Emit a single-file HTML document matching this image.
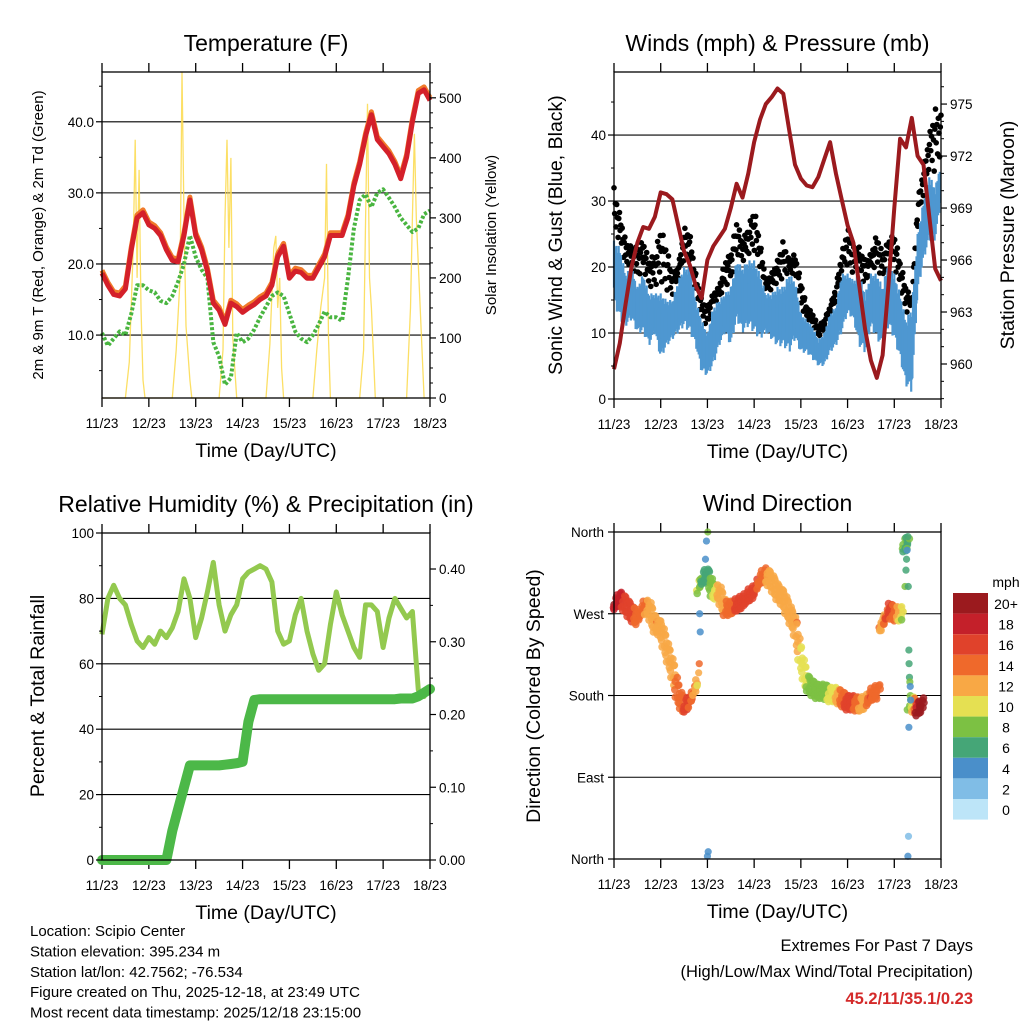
<!DOCTYPE html>
<html><head><meta charset="utf-8"><style>
body{margin:0;background:#fff}
svg{display:block;font-family:"Liberation Sans",sans-serif}
</style></head><body>
<svg id="c" width="1024" height="1024" viewBox="0 0 1024 1024"></svg>
<script>
// ---------- DATA (3-hourly, hours 0..168) ----------
const hours3 = [0,3,6,9,12,15,18,21,24,27,30,33,36,39,42,45,48,51,54,57,60,63,66,69,72,75,78,81,84,87,90,93,96,99,102,105,108,111,114,117,120,123,126,129,132,135,138,141,144,147,150,153,156,159,162,165,168];
const dayLabels = ["11/23","12/23","13/23","14/23","15/23","16/23","17/23","18/23"];
const tempT = [18.7,17.0,15.7,15.5,16.5,22,26.5,27.2,25.5,25,24,22,20.5,20.3,24,29,24,22,19,14.5,13.5,11.5,14.5,14,13.2,13.8,14.3,15,15.5,17,21,22.5,18,19,18.8,18,18,19.5,21,24,24,24,26.5,31,34,38,41,37.5,36.5,35.5,34,32,35,40,44,44.5,43];
const tempTd = [10.3,8.5,9.5,10.5,10,13,17,17,16.3,16,14.8,14.5,15.5,17.5,20,24,21,19.2,18,9,7,3,4,10.3,9,9.5,10.8,12.5,14,15.5,16,15.5,13,10.5,9.5,9,10,11.5,13.3,12.5,12.5,12,18,25,29,29.8,28,30,30.5,29.3,28,26.5,25.5,24.5,25,27,27.5];
const solarHours = [0,12,14,16,17,18,19,20,21,22,36,38,40,41,42,43,45,46,60,62,63,64,65,66,67,69,84,86,88,89,90,91,92,93,108,110,112,114,115,116,117,132,134,135,136,137,138,140,156,158,159,160,161,163,165,168];
const solarVals  = [0,0,60,250,430,200,380,150,30,0,0,80,200,550,300,120,30,0,0,80,300,430,250,400,100,0,0,90,250,270,150,200,50,0,0,80,150,200,390,100,0,0,80,300,490,200,150,0,0,150,300,440,300,150,0,0];
const pressure = [959.7,961.2,963.5,965.6,967,967.9,967.8,968.5,969.9,969.8,969.5,968,966.5,965.7,964.5,963.8,966,966.8,967.3,967.8,969,970.4,969.6,971,972.8,974.1,975,975.4,975.9,975.6,973.5,971.5,970.7,970.3,970.2,970.8,971.8,972.8,971,969.5,968,967,964.5,962,960.2,959.2,960.5,964.5,969,973,972.5,974.2,972,971.5,968.5,965.5,964.8];
const windHi = [24,23,19,20,17,19,16,16,16,15,15,18,20,20,15,12,10,14,15,16,17,21,20,21,21,19,16,16,17,17,19,18,13,12,11,9,10,13,14,19,19,18,19,16,19,19,17,21,19,16,12,14,25,30,34,32,36];
const windLo = [14.5,12,11,12,10,10,8,10,6,8,9,10,11,10,8,4,3.5,5,8,10,8,12,10,11,10,9,10,9,8,8,7,9,7,7,6,5,5,7,8,10,13,12,8,7,11,9,8,11,9,6,2,1,16,21,24,24,30];
const gustHi = [32,28,24,23,23,24,21,22,26,23,19,20,26,25,19,15,14,16,17,21,22,27,24,26,29,24,18,19,21,24,21,22,18,14,13,11,12,14,17,22,26,23,23,21,22,25,22,24,25,21,17,15,30,35,40,44,43];
const rh = [69,80,84,80,78,72,67,65,68,66,70,68,71,76,86,80,68,74,82,91,78,70,75,78,86,88,89,90,89,85,70,66,67,75,80,70,63,58,60,72,82,75,70,65,62,78,78,76,65,74,80,77,74,76,52,50,53];
const precip = [0,0,0,0,0,0,0,0,0,0,0,0,0.04,0.07,0.1,0.13,0.13,0.13,0.13,0.13,0.13,0.131,0.132,0.133,0.135,0.19,0.22,0.221,0.221,0.221,0.221,0.221,0.221,0.221,0.221,0.221,0.221,0.221,0.221,0.221,0.221,0.221,0.221,0.221,0.221,0.221,0.221,0.221,0.221,0.221,0.221,0.222,0.222,0.222,0.225,0.23,0.235];
const dirHours = [0,3,6,9,12,15,18,21,24,27,30,33,36,39,42,44,45,48,51,54,57,60,63,66,69,72,75,78,81,84,87,90,93,96,99,102,105,108,111,114,117,120,123,126,129,132,135,138,141,144,147,150,153,156,159];
const dirDeg   = [280,287,280,271,265,277,277,258,254,232,210,181,168,173,191,300,309,313,294,294,276,276,280,283,290,294,309,313,306,294,287,272,257,221,195,188,184,185,181,181,177,172,172,170,172,181,184,258,275,270,270,346,172,165,170];
const dirSpeed = [19,18,15,16,13,14,12,13,11,11,12,14,15,15,12,8,7,6,9,12,13,13,16,15,16,16,14,13,12,12,12,12,13,10,9,8,7,7,10,11,14,16,15,13,12,15,14,12,16,14,11,6,9,20,21];
const extraDirHours = [48,48.4,151,151.3,43.5,43.8,44,44.3,47,47.5,48.2,149.5,150,150.3,150.6,151,151.2,151.5,151.6,151.8,152,152.2,152.4,151.5];
const extraDirDeg   = [3,8,3,25,205,215,270,250,330,350,360,300,318,330,340,355,300,230,215,200,195,190,175,145];
const extraDirSpeed = [4,3,4,1,11,14,4,4,4,4,7,8,6,5,4,6,5,6,5,6,7,4,3,3];
const cbLabels = ["20+","18","16","14","12","10","8","6","4","2","0"];
const cbColors = ["#9b1a1e","#c4202a","#e0422b","#ef692b","#f8a845","#e5e052","#7cc143","#45a677","#4a8fca","#80bde6","#bde5f8"];

// ---------- HELPERS ----------
const NS="http://www.w3.org/2000/svg", S=document.getElementById('c');
function mk(tag, attrs, parent){const e=document.createElementNS(NS,tag);for(const k in attrs)e.setAttribute(k,attrs[k]);(parent||S).appendChild(e);return e;}
function txt(str,x,y,size,anchor,parent,extra){const t=mk('text',Object.assign({x:x,y:y,'font-size':size,'text-anchor':anchor||'middle',fill:'#000'},extra||{}),parent);t.textContent=str;return t;}
function lin(d0,d1,r0,r1){return v=>r0+(v-d0)*(r1-r0)/(d1-d0);}
function interp(xs,ys,x){for(let i=0;i<xs.length-1;i++){if(x<=xs[i+1]){const f=(x-xs[i])/(xs[i+1]-xs[i]);return ys[i]+f*(ys[i+1]-ys[i]);}}return ys[ys.length-1];}
function interpJump(xs,ys,x,maxJump){for(let i=0;i<xs.length-1;i++){if(x<=xs[i+1]){const f=(x-xs[i])/(xs[i+1]-xs[i]);if(Math.abs(ys[i+1]-ys[i])>maxJump)return f<0.5?ys[i]:ys[i+1];return ys[i]+f*(ys[i+1]-ys[i]);}}return ys[ys.length-1];}
function speedColor(s){let i=Math.round(Math.min(s,20)/2);return cbColors[10-i];}

function panel(name,x0,x1,y0,y1,title,xtitle){
  const g=mk('g',{});
  
  
  const tt=txt(title,(x0+x1)/2,y0-21,23,'middle',g);
  
  
  const xs=lin(0,168,x0,x1);
  dayLabels.forEach((d,i)=>{const x=xs(i*24);
    mk('line',{x1:x,x2:x,y1:y0,y2:y0-9,stroke:'#000','stroke-width':1.3},g);
    mk('line',{x1:x,x2:x,y1:y1,y2:y1+9,stroke:'#000','stroke-width':1.3},g);
    const l=txt(d,x,y1+30,13.5,'middle',g);
    
    
  });
  const xt=txt(xtitle,(x0+x1)/2,y1+59,19.5,'middle',g);
  
  
  return {g,xs};
}
function frame(g,x0,x1,y0,y1){mk('rect',{x:x0,y:y0,width:x1-x0,height:y1-y0,fill:'none',stroke:'#000','stroke-width':1.3},g);}
function grid(g,x0,x1,ys){ys.forEach(y=>mk('line',{x1:x0,x2:x1,y1:y,y2:y,stroke:'#000','stroke-width':1.1},g));}
function rotTitle(g,str,x,y,size,name){const t=txt(str,x,y,size,'middle',g,{transform:`rotate(-90 ${x} ${y})`});}
function ticksY(g,x,vals,ys,fmt,side,size,minor){vals.forEach(v=>{const y=ys(v);
  mk('line',{x1:x,x2:x+(side<0?-6:6),y1:y,y2:y,stroke:'#000','stroke-width':1.2},g);
  const l=txt(fmt(v),side<0?x-8:x+9,y+5,size||13.5,side<0?'end':'start',g);
  
  });
  (minor||[]).forEach(v=>{const y=ys(v);mk('line',{x1:x,x2:x+(side<0?-3:3),y1:y,y2:y,stroke:'#000','stroke-width':1},g);});}
function path(xsA,ysA,xf,yf){return xsA.map((h,i)=>(i?'L':'M')+xf(h).toFixed(1)+' '+yf(ysA[i]).toFixed(1)).join(' ');}

// ---------- PANEL 1: TEMPERATURE ----------
(function(){
  const x0=102,x1=430,y0=72,y1=398;
  const {g,xs}=panel('temperature-panel',x0,x1,y0,y1,'Temperature (F)','Time (Day/UTC)');
  const yL=lin(1.15,47.0,y1,y0), yR=lin(0,543,y1,y0);
  grid(g,x0,x1,[10,20,30,40].map(yL));
  const sol=mk('path',{d:path(solarHours,solarVals,xs,v=>Math.max(y0,yR(v))),fill:'none',stroke:'#fbd94a','stroke-width':1.3,'stroke-opacity':0.85},g);
  
  
  const td=mk('path',{d:path(hours3,tempTd,xs,yL),fill:'none',stroke:'#49b540','stroke-width':4,'stroke-dasharray':'3 2','stroke-linejoin':'round'},g);
  
  
  const t9=mk('path',{d:path(hours3,tempT,xs,v=>yL(v+0.4)),fill:'none',stroke:'#f07a2a','stroke-width':5,'stroke-linejoin':'round'},g);
  
  
  const t2=mk('path',{d:path(hours3,tempT,xs,yL),fill:'none',stroke:'#d4202a','stroke-width':5,'stroke-linejoin':'round'},g);
  
  
  frame(g,x0,x1,y0,y1);
  ticksY(g,x0,[10,20,30,40],yL,v=>v.toFixed(1),-1,13.5,[5,15,25,35,45]);
  ticksY(g,x1,[0,100,200,300,400,500],yR,v=>String(v),1,13.5,[25,50,75,125,150,175,225,250,275,325,350,375,425,450,475,525]);
  rotTitle(g,'2m & 9m T (Red, Orange) & 2m Td (Green)',43,235,15,'left-y-axis-title');
  rotTitle(g,'Solar Insolation (Yellow)',496,235,15,'right-y-axis-title');
})();

// ---------- PANEL 2: WINDS ----------
(function(){
  const x0=614,x1=941,y0=72,y1=399;
  const {g,xs}=panel('winds-panel',x0,x1,y0,y1,'Winds (mph) & Pressure (mb)','Time (Day/UTC)');
  const yL=lin(0,49.55,y1,y0), yR=lin(957.98,976.85,y1,y0);
  grid(g,x0,x1,[10,20,30,40].map(yL));
  const gg=mk('g',{},g);
  
  
  const frac=[1,0.55,0.8,0.35,0.9,0.65,0.2,0.75];
  let k=0;
  for(let h=0;h<=168;h+=0.35){const hi=interp(hours3,gustHi,h),lo=interp(hours3,windHi,h);
    const v=lo+(hi-lo)*frac[k%frac.length];k++;
    mk('circle',{cx:xs(h).toFixed(1),cy:yL(v).toFixed(1),r:2.8,fill:'#000'},gg);}
  const wb=mk('g',{stroke:'#4e97d1','stroke-width':2.2},g);
  
  
  const jt=[0,0.2,0.08,0.3,0.04,0.25,0.12,0.35];
  const jb=[0,0.15,0.05,0.25,0.1,0.3,0.12,0.2];
  k=0;
  for(let h=0;h<=168;h+=0.3){const hi=interp(hours3,windHi,h),lo=interp(hours3,windLo,h),r=hi-lo;
    mk('line',{x1:xs(h).toFixed(1),x2:xs(h).toFixed(1),y1:yL(hi-r*jt[k%8]).toFixed(1),y2:yL(lo+r*jb[(k+3)%8]).toFixed(1)},wb);k++;}
  const pr=mk('path',{d:path(hours3,pressure,xs,yR),fill:'none',stroke:'#9b1a1e','stroke-width':4,'stroke-linejoin':'round'},g);
  
  
  frame(g,x0,x1,y0,y1);
  ticksY(g,x0,[0,10,20,30,40],yL,v=>String(v),-1,13.5,[5,15,25,35,45]);
  ticksY(g,x1,[960,963,966,969,972,975],yR,v=>String(v),1,13.5,[958,959,961,962,964,965,967,968,970,971,973,974,976]);
  rotTitle(g,'Sonic Wind & Gust (Blue, Black)',562,235,19.5,'left-y-axis-title');
  rotTitle(g,'Station Pressure (Maroon)',1014,235,19.5,'right-y-axis-title');
})();

// ---------- PANEL 3: RH & PRECIP ----------
(function(){
  const x0=102,x1=430,y0=533,y1=860;
  const {g,xs}=panel('humidity-panel',x0,x1,y0,y1,'Relative Humidity (%) & Precipitation (in)','Time (Day/UTC)');
  const yL=lin(0,100,y1,y0), yR=lin(0,0.4495,y1,y0);
  grid(g,x0,x1,[20,40,60,80].map(yL));
  const r=mk('path',{d:path(hours3,rh,xs,yL),fill:'none',stroke:'#93c94f','stroke-width':5,'stroke-linejoin':'round'},g);
  
  
  const p=mk('path',{d:path(hours3,precip,xs,yR),fill:'none',stroke:'#4cb848','stroke-width':10,'stroke-linejoin':'round','stroke-linecap':'round'},g);
  
  
  frame(g,x0,x1,y0,y1);
  ticksY(g,x0,[0,20,40,60,80,100],yL,v=>String(v),-1,13.5,[10,30,50,70,90]);
  ticksY(g,x1,[0,0.1,0.2,0.3,0.4],yR,v=>v.toFixed(2),1,13.5,[0.05,0.15,0.25,0.35]);
  rotTitle(g,'Percent & Total Rainfall',44,696,19.5,'left-y-axis-title');
})();

// ---------- PANEL 4: WIND DIRECTION ----------
(function(){
  const x0=614,x1=941,y0=532,y1=859;
  const {g,xs}=panel('wind-direction-panel',x0,x1,y0,y1,'Wind Direction','Time (Day/UTC)');
  const ys=lin(0,360,y1,y0);
  grid(g,x0,x1,[90,180,270].map(ys));
  const dg=mk('g',{'fill-opacity':0.85},g);
  
  
  const off=[0,-6,4,-3,7,-7,3,-2,6];
  const ox=[0,1.5,-1.5,2,-2,0.5,-0.5,1,-1];
  let k=0;
  for(let h=0;h<=159;h+=0.25){
    const d0=interpJump(dirHours,dirDeg,h,60);
    const s=interp(dirHours,dirSpeed,h);
    mk('circle',{cx:(xs(h)+ox[k%ox.length]).toFixed(1),cy:(ys(d0)+off[k%off.length]).toFixed(1),r:3.8,fill:speedColor(s)},dg);k++;
  }
  extraDirHours.forEach((h,i)=>mk('circle',{cx:xs(h),cy:ys(extraDirDeg[i]),r:3.6,fill:speedColor(extraDirSpeed[i])},dg));
  frame(g,x0,x1,y0,y1);
  [[360,'North'],[270,'West'],[180,'South'],[90,'East'],[0,'North']].forEach(([v,l])=>{
    const y=ys(v);mk('line',{x1:x0,x2:x0-6,y1:y,y2:y,stroke:'#000','stroke-width':1.2},g);
    const t=txt(l,x0-10,y+5,13.5,'end',g);
    
    });
  rotTitle(g,'Direction (Colored By Speed)',540,696,19.5,'left-y-axis-title');
  const cb=mk('g',{},g);
  
  
  txt('mph',1006,587,14,'middle',cb);
  cbLabels.forEach((l,i)=>{const y=593+i*20.6;
    mk('rect',{x:953,y:y,width:35,height:20.6,fill:cbColors[i]},cb);
    txt(l,1006,y+16,14,'middle',cb);});
})();

// ---------- FOOTER ----------
(function(){
  const g=mk('g',{});
  
  
  ["Location: Scipio Center","Station elevation: 395.234 m","Station lat/lon: 42.7562; -76.534","Figure created on Thu, 2025-12-18, at 23:49 UTC","Most recent data timestamp: 2025/12/18 23:15:00"]
   .forEach((s,i)=>txt(s,30,936+i*20.4,15,'start',g));
  const e=mk('g',{});
  
  
  txt('Extremes For Past 7 Days',973,951,16.5,'end',e);
  txt('(High/Low/Max Wind/Total Precipitation)',973,977,16.5,'end',e);
  txt('45.2/11/35.1/0.23',973,1004,16.5,'end',e,{fill:'#d42a2a','font-weight':'bold'});
})();
</script>
</body></html>
